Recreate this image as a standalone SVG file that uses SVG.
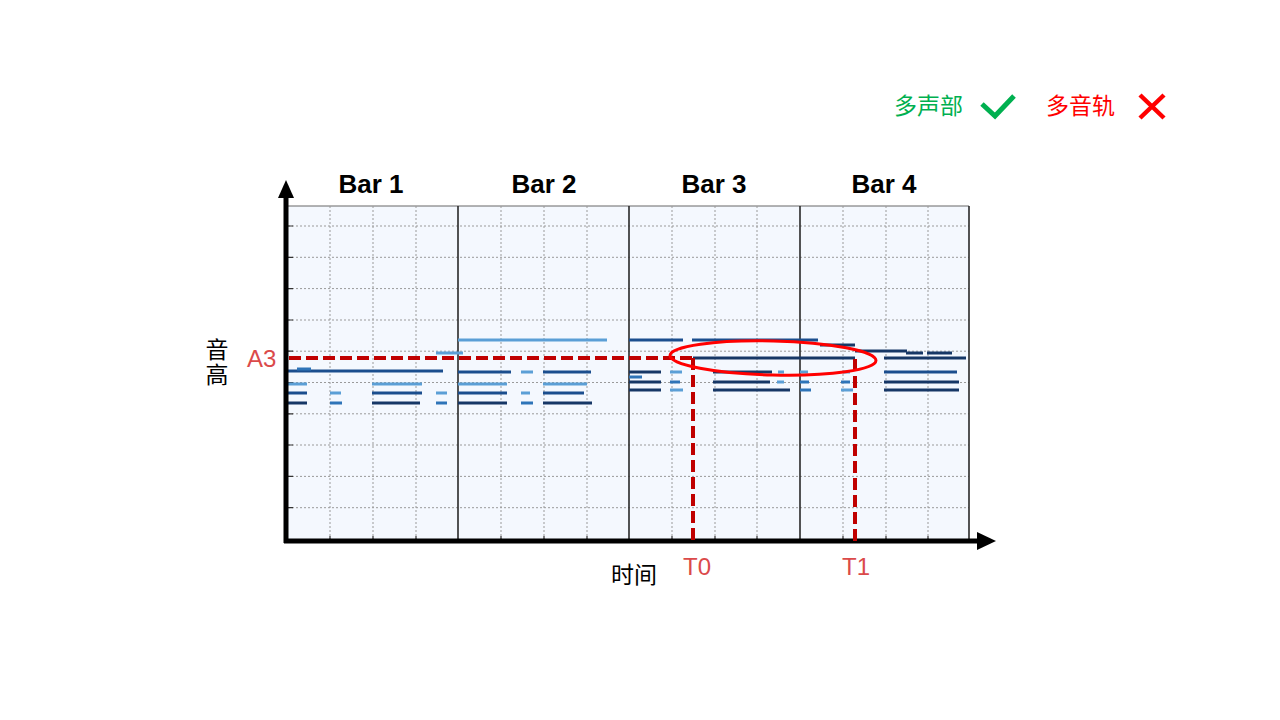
<svg xmlns="http://www.w3.org/2000/svg" width="1280" height="720" viewBox="0 0 1280 720">
<style>
.grid{stroke:#9a9a9a;stroke-width:1;stroke-dasharray:2 2;fill:none}
.bar{stroke:#2a2a2a;stroke-width:1.6}
.tick{stroke:#333;stroke-width:1.2}
.n line{stroke-width:3}
.l{stroke:#5B9FD6}
.m{stroke:#2E74B8}
.d{stroke:#1B4E8E}
.v{stroke:#163766}
.red{stroke:#C00000;stroke-width:4;stroke-dasharray:12 5;fill:none}
.bt{font-family:"Liberation Sans",Arial,sans-serif;font-weight:bold;font-size:26px;text-anchor:middle;fill:#000}
.cj{font-family:"Noto Sans CJK SC",sans-serif;font-size:23px}
.lab{font-family:"Liberation Sans",Arial,sans-serif;font-size:24px;fill:#DB4A4A}
</style>
<rect width="1280" height="720" fill="#fff"/>

<g id="legend">
<text class="cj" x="894" y="114" fill="#00B050">多声部</text>
<path d="M982,104 L995,116 L1014,96" stroke="#00B050" stroke-width="5" fill="none"/>
<text class="cj" x="1046" y="114" fill="#FF0000">多音轨</text>
<path d="M1140,95 L1164,118 M1164,95 L1140,118" stroke="#FF0000" stroke-width="4.5" fill="none"/>
</g>

<g id="plot">
<rect x="288" y="206" width="681" height="335" fill="#F4F8FE"/>
<line x1="288" y1="206" x2="969" y2="206" stroke="#666" stroke-width="1"/>
<g class="grid">
<path d="M288,226H969M288,257.3H969M288,288.6H969M288,320H969M288,351.2H969M288,382.5H969M288,413.8H969M288,445H969M288,476.4H969M288,507.7H969"/>
<path d="M330,206V541M373,206V541M416,206V541M501,206V541M544,206V541M587,206V541M672,206V541M715,206V541M757,206V541M843,206V541M886,206V541M928,206V541"/>
</g>
<g class="tick">
<path d="M288,226h5M288,257.3h5M288,288.6h5M288,320h5M288,351.2h5M288,382.5h5M288,413.8h5M288,445h5M288,476.4h5M288,507.7h5"/>
<path d="M330,541v-5M373,541v-5M416,541v-5M501,541v-5M544,541v-5M587,541v-5M672,541v-5M715,541v-5M757,541v-5M843,541v-5M886,541v-5M928,541v-5"/>
</g>
<path class="bar" d="M458,206V541M629,206V541M800,206V541M969,206V541"/>
</g>

<g id="notes" class="n">
<line class="l" x1="436" y1="353" x2="463" y2="353"/>
<line class="d" x1="288" y1="371" x2="443" y2="371"/>
<line class="m" x1="297" y1="369" x2="311" y2="369"/>
<line class="l" x1="288" y1="384" x2="307" y2="384"/>
<line class="l" x1="372" y1="384" x2="422" y2="384"/>
<line class="d" x1="288" y1="393" x2="307" y2="393"/>
<line class="l" x1="330" y1="393" x2="341" y2="393"/>
<line class="d" x1="372" y1="393" x2="422" y2="393"/>
<line class="l" x1="436" y1="393" x2="447" y2="393"/>
<line class="v" x1="288" y1="403" x2="307" y2="403"/>
<line class="m" x1="330" y1="403" x2="342" y2="403"/>
<line class="v" x1="372" y1="403" x2="420" y2="403"/>
<line class="m" x1="436" y1="403" x2="447" y2="403"/>
<line class="l" x1="458" y1="340" x2="607" y2="340"/>
<line class="d" x1="458" y1="372" x2="511" y2="372"/>
<line class="l" x1="521" y1="372" x2="533" y2="372"/>
<line class="d" x1="543" y1="372" x2="591" y2="372"/>
<line class="l" x1="458" y1="384" x2="507" y2="384"/>
<line class="l" x1="543" y1="384" x2="587" y2="384"/>
<line class="d" x1="458" y1="393" x2="507" y2="393"/>
<line class="l" x1="521" y1="393" x2="530" y2="393"/>
<line class="d" x1="543" y1="393" x2="584" y2="393"/>
<line class="v" x1="458" y1="403" x2="507" y2="403"/>
<line class="m" x1="521" y1="403" x2="533" y2="403"/>
<line class="v" x1="543" y1="403" x2="592" y2="403"/>
<line class="d" x1="629" y1="340" x2="683" y2="340"/>
<line class="d" x1="692" y1="340" x2="818" y2="340"/>
<line class="v" x1="693" y1="358" x2="855" y2="358"/>
<line class="v" x1="629" y1="372" x2="661" y2="372"/>
<line class="l" x1="670" y1="372" x2="682" y2="372"/>
<line class="v" x1="713" y1="372" x2="772" y2="372"/>
<line class="l" x1="778" y1="372" x2="784" y2="372"/>
<line class="m" x1="629" y1="377" x2="642" y2="377"/>
<line class="v" x1="629" y1="382" x2="661" y2="382"/>
<line class="m" x1="670" y1="382" x2="680" y2="382"/>
<line class="v" x1="713" y1="382" x2="770" y2="382"/>
<line class="l" x1="777" y1="382" x2="784" y2="382"/>
<line class="v" x1="629" y1="390" x2="661" y2="390"/>
<line class="l" x1="670" y1="390" x2="683" y2="390"/>
<line class="v" x1="713" y1="390" x2="790" y2="390"/>
<line class="v" x1="820" y1="345" x2="855" y2="345"/>
<line class="v" x1="855" y1="351" x2="907" y2="351"/>
<line class="v" x1="906" y1="353" x2="923" y2="353"/>
<line class="v" x1="927" y1="353" x2="952" y2="353"/>
<line class="v" x1="884" y1="358" x2="966" y2="358"/>
<line class="l" x1="800" y1="372" x2="808" y2="372"/>
<line class="l" x1="843" y1="372" x2="850" y2="372"/>
<line class="d" x1="884" y1="372" x2="957" y2="372"/>
<line class="m" x1="800" y1="382" x2="809" y2="382"/>
<line class="m" x1="841" y1="382" x2="850" y2="382"/>
<line class="v" x1="884" y1="382" x2="959" y2="382"/>
<line class="m" x1="800" y1="390" x2="811" y2="390"/>
<line class="l" x1="841" y1="390" x2="853" y2="390"/>
<line class="v" x1="884" y1="390" x2="959" y2="390"/>
</g>

<g id="axes">
<line x1="286" y1="543" x2="286" y2="196" stroke="#000" stroke-width="5"/>
<path d="M286,180 L294,198 L278,198 Z" fill="#000"/>
<line x1="284" y1="541" x2="979" y2="541" stroke="#000" stroke-width="5"/>
<path d="M996,541 L977,532 L977,550 Z" fill="#000"/>
</g>

<g id="connectors">
<path class="red" d="M289,358H693"/>
<path class="red" d="M693,358V541"/>
<path class="red" d="M855,359V541"/>
<ellipse cx="773" cy="358" rx="103" ry="17" transform="rotate(1.4 773 358)" fill="none" stroke="#FF0000" stroke-width="3"/>
</g>

<g id="labels">
<text class="bt" x="371" y="193">Bar 1</text>
<text class="bt" x="544" y="193">Bar 2</text>
<text class="bt" x="714" y="193">Bar 3</text>
<text class="bt" x="884" y="193">Bar 4</text>
<text class="cj" x="217" y="338" writing-mode="vertical-rl" letter-spacing="2" fill="#000" font-size="22">音高</text>
<text class="lab" x="247" y="367">A3</text>
<text class="cj" x="611" y="583" fill="#000">时间</text>
<text class="lab" x="683" y="575">T0</text>
<text class="lab" x="842" y="575">T1</text>
</g>
</svg>
